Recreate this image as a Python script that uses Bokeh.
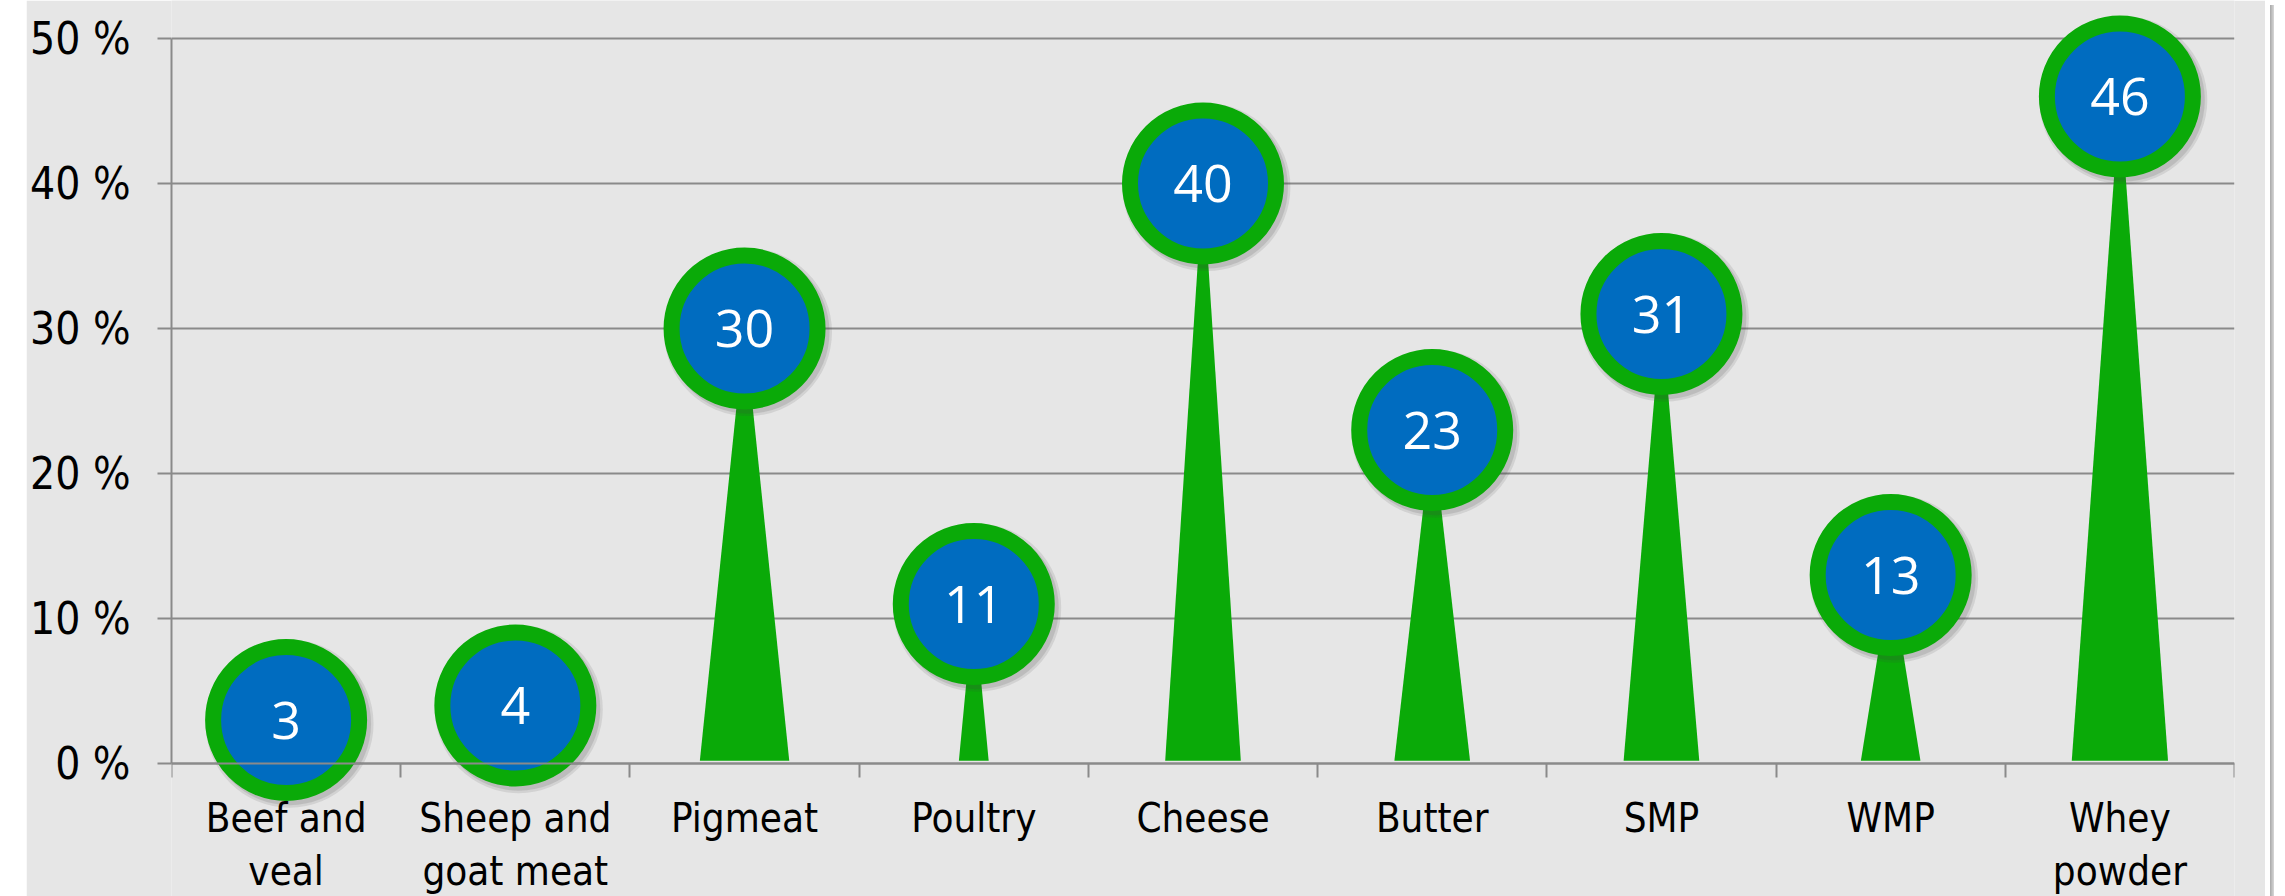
from bokeh.plotting import figure
from bokeh.models import Range1d, FixedTicker, Spacer, Div, ColumnDataSource
from bokeh.layouts import row
from bokeh.embed import file_html
from bokeh.resources import INLINE
from bokeh.core.properties import value

# ---- data ----
categories = ["Beef and\nveal", "Sheep and\ngoat meat", "Pigmeat", "Poultry",
              "Cheese", "Butter", "SMP", "WMP", "Whey\npowder"]
shares = [3, 4, 30, 11, 40, 23, 31, 13, 46]
y_ticks = [0, 10, 20, 30, 40, 50]
y_tick_labels = ["0 %", "10 %", "20 %", "30 %", "40 %", "50 %"]
spike_widths = [0.2, 0.2, 0.39, 0.13, 0.33, 0.33, 0.33, 0.26, 0.42]

# ---- style ----
BG = "#e6e6e6"
GREEN = "#0aaa08"
BLUE = "#006cc0"
GRID = "#8a8a8a"
FONT = "DejaVu Sans Condensed, DejaVu Sans, sans-serif"
H = 896

n = len(categories)
centers = [i + 0.5 for i in range(n)]

p = figure(width=2239, height=H, output_backend="svg", toolbar_location=None,
           title=None, x_range=Range1d(0, n), y_range=Range1d(-9.17, 52.62),
           min_border_left=137, min_border_right=31, min_border_top=0,
           min_border_bottom=0)
p.background_fill_color = BG
p.border_fill_color = BG
p.outline_line_color = None

# spikes
src_sp = ColumnDataSource(dict(
    xs=[[c - w / 2, c + w / 2, c] for c, w in zip(centers, spike_widths)],
    ys=[[0.2, 0.2, v] for v in shares]))
p.patches("xs", "ys", source=src_sp, fill_color=GREEN, line_color=None)

# circle shadows
src = ColumnDataSource(dict(x=centers, y=shares, label=[str(v) for v in shares]))
sx = [c + 0.015 for c in centers]
sy = [v - 0.25 for v in shares]
p.scatter(sx, sy, size=168, fill_color="#404040", fill_alpha=0.12, line_color=None)
p.scatter(sx, sy, size=163, fill_color="#404040", fill_alpha=0.15, line_color=None)

# circles
p.scatter(x="x", y="y", source=src, size=146, fill_color=BLUE,
          line_color=GREEN, line_width=16)
p.text(x="x", y="y", text="label", source=src, text_align="center",
       text_baseline="middle", text_color="white",
       text_font=value("Open Sans"), text_font_size="52px")

# y axis
ya = p.yaxis[0]
ya.ticker = FixedTicker(ticks=y_ticks, minor_ticks=[])
ya.major_label_overrides = {t: l for t, l in zip(y_ticks, y_tick_labels)}
ya.bounds = (0, 50)
ya.axis_line_color = GRID
ya.axis_line_width = 2
ya.major_tick_line_color = GRID
ya.major_tick_line_width = 2
ya.major_tick_out = 14
ya.major_tick_in = 0
ya.minor_tick_line_color = None
ya.major_label_standoff = 27
ya.major_label_text_font = FONT
ya.major_label_text_font_size = "44px"
ya.major_label_text_color = "black"

# x axis
xa = p.xaxis[0]
xa.fixed_location = 0
xa.ticker = FixedTicker(ticks=centers, minor_ticks=list(range(n + 1)))
xa.major_label_overrides = {c: lab for c, lab in zip(centers, categories)}
xa.axis_line_color = GRID
xa.axis_line_width = 2
xa.major_tick_line_color = None
xa.major_tick_out = 0
xa.major_tick_in = 0
xa.minor_tick_line_color = GRID
xa.minor_tick_line_width = 2
xa.minor_tick_out = 14
xa.minor_tick_in = 0
xa.major_label_standoff = 17
xa.major_label_text_font = FONT
xa.major_label_text_font_size = "40px"
xa.major_label_text_color = "black"
xa.major_label_text_line_height = 1.17

p.xgrid.grid_line_color = None
p.ygrid.ticker = FixedTicker(ticks=y_ticks)
p.ygrid.grid_line_color = GRID
p.ygrid.grid_line_width = 2

left = Spacer(width=26, height=H)
shadow = Div(text="", width=4, height=H,
             styles={"background": "linear-gradient(to right, #a8a8a8, #d8d8d8)"})
layout = row(left, p, shadow, spacing=0)

open("out.html", "w").write(file_html(layout, INLINE))
